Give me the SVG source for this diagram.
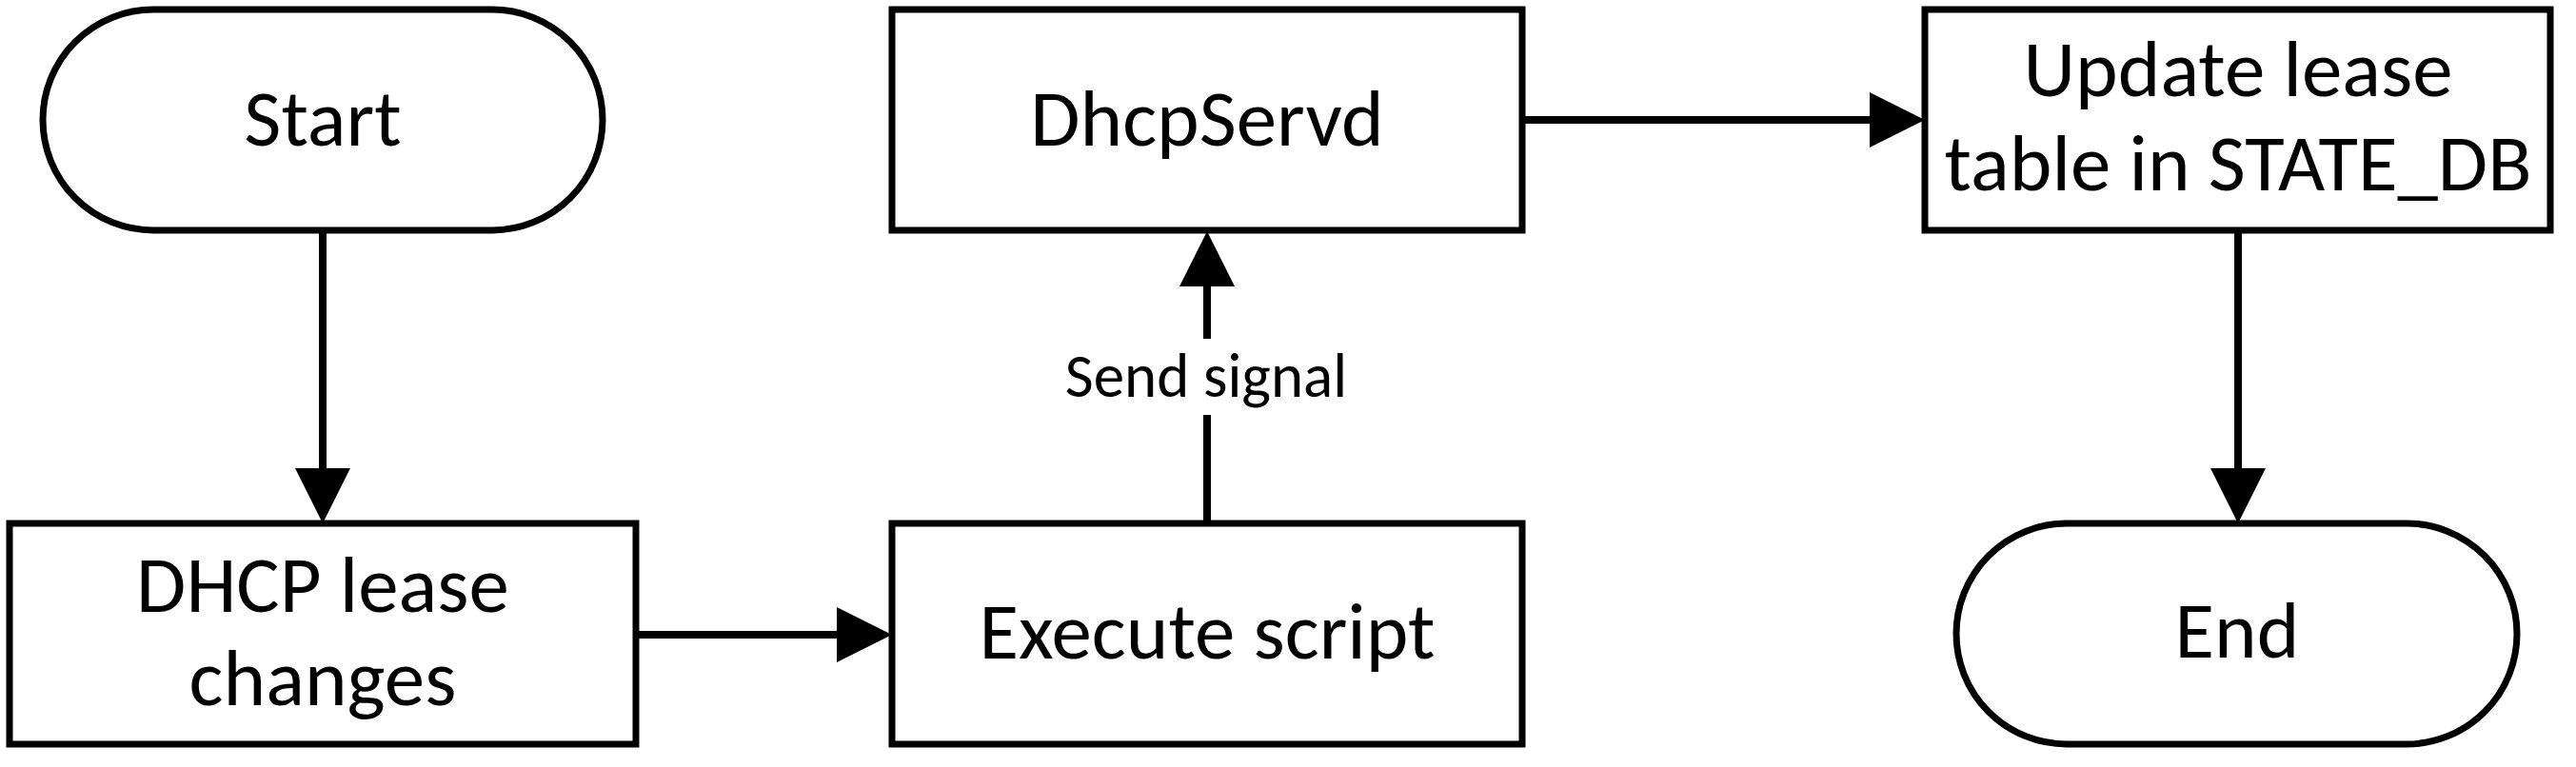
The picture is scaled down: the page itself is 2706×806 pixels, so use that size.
<svg xmlns="http://www.w3.org/2000/svg" width="2706" height="806" viewBox="0 0 2706 806">
<style>
.box{fill:#fff;stroke:#000;stroke-width:7}
.t{font-family:Carlito,"Liberation Sans Narrow","Liberation Sans",sans-serif;font-size:85px;fill:#000;text-anchor:middle}
.lbl{font-family:Carlito,"Liberation Sans Narrow","Liberation Sans",sans-serif;font-size:65px;fill:#000;text-anchor:middle}
.c{fill:none;stroke:#000;stroke-width:8}
</style>
<defs>
<marker id="arrow" markerUnits="userSpaceOnUse" viewBox="0 0 58 58" refX="0" refY="29" markerWidth="58" markerHeight="58" orient="auto">
<path d="M0,0 L58,29 L0,58 Z" fill="#000"/>
</marker>
</defs>
<rect width="2706" height="806" fill="#fff"/>
<g id="start">
<rect class="box" x="45" y="10" width="588" height="232" rx="116" ry="116"/>
<text class="t" x="339" y="153">Start</text>
</g>
<g id="dhcp-lease">
<rect class="box" x="10" y="550" width="658" height="232"/>
<text class="t" x="339" y="643">DHCP lease</text>
<text class="t" x="339" y="741">changes</text>
</g>
<g id="execute">
<rect class="box" x="937" y="550" width="662" height="232"/>
<text class="t" x="1268" y="692">Execute script</text>
</g>
<g id="dhcpservd">
<rect class="box" x="937" y="10" width="662" height="232"/>
<text class="t" x="1268" y="153">DhcpServd</text>
</g>
<g id="update">
<rect class="box" x="2022" y="10" width="657" height="232"/>
<text class="t" x="2351" y="101">Update lease</text>
<text class="t" x="2351" y="200">table in STATE_DB</text>
</g>
<g id="end">
<rect class="box" x="2055" y="550" width="589" height="232" rx="116" ry="116"/>
<text class="t" x="2350" y="691">End</text>
</g>
<g id="connectors">
<line class="c" x1="339" y1="242" x2="339" y2="492" marker-end="url(#arrow)"/>
<line class="c" x1="668" y1="667" x2="879" y2="667" marker-end="url(#arrow)"/>
<line class="c" x1="1268" y1="550" x2="1268" y2="436"/>
<line class="c" x1="1268" y1="356" x2="1268" y2="301" marker-end="url(#arrow)"/>
<text class="lbl" x="1267" y="417">Send signal</text>
<line class="c" x1="1599" y1="126" x2="1964" y2="126" marker-end="url(#arrow)"/>
<line class="c" x1="2351" y1="242" x2="2351" y2="492" marker-end="url(#arrow)"/>
</g>
</svg>
